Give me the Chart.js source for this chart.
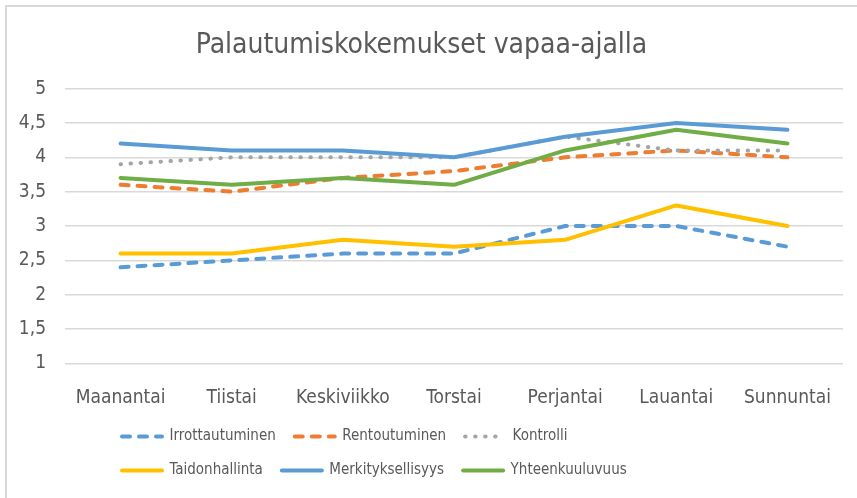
<!DOCTYPE html>
<html lang="fi">
<head>
    <meta charset="UTF-8">
    <title>Palautumiskokemukset vapaa-ajalla</title>
    <script src="https://cdn.jsdelivr.net/npm/chart.js"></script>
    <style>
        html, body {
            margin: 0;
            padding: 0;
            background: #fff;
            overflow: hidden;
        }
        .frame {
            position: absolute;
            left: 5px;
            top: 5px;
            width: 2000px;
            height: 2000px;
            border-left: 2px solid #d9d9d9;
            border-top: 2px solid #d9d9d9;
        }
        .chart-box {
            position: absolute;
            left: 0;
            top: 0;
            width: 857px;
            height: 498px;
        }
    </style>
</head>
<body>
    <div class="frame"></div>
    <div class="chart-box">
        <canvas id="chart"></canvas>
    </div>

    <script>
        const days = ["Maanantai", "Tiistai", "Keskiviikko", "Torstai", "Perjantai", "Lauantai", "Sunnuntai"];
        const irrottautuminen = [2.4, 2.5, 2.6, 2.6, 3.0, 3.0, 2.7];
        const rentoutuminen = [3.6, 3.5, 3.7, 3.8, 4.0, 4.1, 4.0];
        const kontrolli = [3.9, 4.0, 4.0, 4.0, 4.3, 4.1, 4.1];
        const taidonhallinta = [2.6, 2.6, 2.8, 2.7, 2.8, 3.3, 3.0];
        const merkityksellisyys = [4.2, 4.1, 4.1, 4.0, 4.3, 4.5, 4.4];
        const yhteenkuuluvuus = [3.7, 3.6, 3.7, 3.6, 4.1, 4.4, 4.2];

        const textColor = "#595959";
        const fontFamily = "'Liberation Sans Narrow', 'DejaVu Sans Condensed', 'Liberation Sans', sans-serif";

        function line(label, values, color, dash, idx) {
            return {
                label: label,
                data: values,
                borderColor: color,
                backgroundColor: color,
                borderWidth: 4,
                borderDash: dash,
                borderCapStyle: "round",
                borderJoinStyle: "round",
                pointRadius: 0,
                tension: 0,
                fill: false,
                order: 6 - idx // later series on top, like the original
            };
        }

        // legend: three items per row, rows starting near the left like the original
        const LEGEND_ROW = 600;
        const legendLayout = {
            id: "legendLayout",
            beforeLayout(chart) {
                const lg = chart.legend;
                if (!lg || lg._wrapped) return;
                const fit = lg.fit;
                lg.fit = function () {
                    const w = this.maxWidth;
                    this.maxWidth = Math.min(w, LEGEND_ROW);
                    fit.call(this);
                    this.maxWidth = w;
                };
                lg._wrapped = true;
            },
            afterLayout(chart) {
                chart.legend.left = 103;
                chart.legend.right = 103 + LEGEND_ROW;
            }
        };

        const chart = new Chart(document.getElementById("chart"), {
            type: "line",
            data: {
                labels: days,
                datasets: [
                    line("Irrottautuminen", irrottautuminen, "#5b9bd5", [8, 9], 0),
                    line("Rentoutuminen", rentoutuminen, "#ed7d31", [8, 9], 1),
                    line("Kontrolli", kontrolli, "#a5a5a5", [0.5, 9.5], 2),
                    line("Taidonhallinta", taidonhallinta, "#ffc000", [], 3),
                    line("Merkityksellisyys", merkityksellisyys, "#5b9bd5", [], 4),
                    line("Yhteenkuuluvuus", yhteenkuuluvuus, "#70ad47", [], 5)
                ]
            },
            options: {
                responsive: true,
                maintainAspectRatio: false,
                animation: false,
                layout: {
                    padding: { left: 0, right: 14, top: 0, bottom: 10 }
                },
                plugins: {
                    title: {
                        display: true,
                        text: "Palautumiskokemukset vapaa-ajalla",
                        color: textColor,
                        font: { family: fontFamily, size: 28, weight: "normal" },
                        padding: { top: 29, bottom: 26 }
                    },
                    legend: {
                        position: "bottom",
                        align: "start",
                        labels: {
                            usePointStyle: true,
                            pointStyle: "line",
                            pointStyleWidth: 40,
                            padding: 19,
                            color: textColor,
                            font: { family: fontFamily, size: 15 },
                            sort: (a, b) => a.datasetIndex - b.datasetIndex,
                            generateLabels(chart) {
                                const items = Chart.defaults.plugins.legend.labels.generateLabels(chart);
                                items.forEach((it) => {
                                    it.lineDash = chart.data.datasets[it.datasetIndex].borderDash;
                                    it.lineCap = "round";
                                });
                                return items;
                            }
                        }
                    },
                    tooltip: { enabled: false }
                },
                scales: {
                    x: {
                        offset: true,
                        grid: { display: false },
                        border: { display: false },
                        ticks: {
                            color: textColor,
                            padding: 15,
                            font: { family: fontFamily, size: 19 }
                        },
                        afterFit(scale) {
                            scale.height = 46.5;
                        }
                    },
                    y: {
                        min: 1,
                        max: 5,
                        grid: { color: "#d9d9d9", lineWidth: 1.5, drawTicks: false },
                        border: { display: false },
                        ticks: {
                            stepSize: 0.5,
                            color: textColor,
                            padding: 19,
                            font: { family: fontFamily, size: 19 },
                            callback: (v) => String(v).replace(".", ",")
                        },
                        afterFit(scale) {
                            scale.width = 65;
                        }
                    }
                }
            },
            plugins: [legendLayout]
        });
    </script>
</body>
</html>
